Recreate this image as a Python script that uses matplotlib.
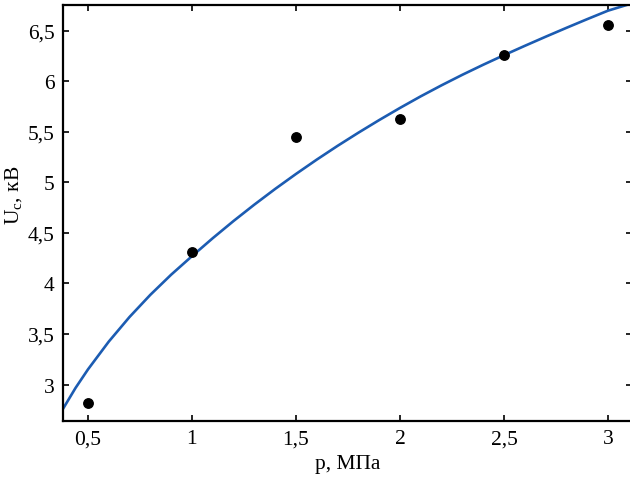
import matplotlib
matplotlib.use("Agg")
import matplotlib.pyplot as plt

plt.rcParams['font.family'] = ['Liberation Serif', 'DejaVu Serif']
plt.rcParams['mathtext.fontset'] = 'custom'
plt.rcParams['mathtext.rm'] = 'Liberation Serif'
plt.rcParams['mathtext.it'] = 'Liberation Serif:italic'

# measured points
p_meas = [0.5, 1.0, 1.5, 2.0, 2.5, 3.0]
u_meas = [2.82, 4.31, 5.45, 5.63, 6.26, 6.56]

# fitted curve
p_fit = [0.38, 0.44, 0.5, 0.6, 0.7, 0.8, 0.9, 1.0, 1.1, 1.2, 1.3, 1.4, 1.5,
         1.6, 1.7, 1.8, 1.9, 2.0, 2.1, 2.2, 2.3, 2.4, 2.5, 2.6, 2.7, 2.8,
         2.9, 3.0, 3.115]
u_fit = [2.76, 2.966, 3.15, 3.425, 3.669, 3.888, 4.087, 4.27, 4.448, 4.618,
         4.78, 4.935, 5.083, 5.225, 5.361, 5.491, 5.616, 5.736, 5.851, 5.96,
         6.064, 6.163, 6.258, 6.35, 6.44, 6.528, 6.614, 6.698, 6.77]

x_ticks = [0.5, 1, 1.5, 2, 2.5, 3]
x_labels = ['0,5', '1', '1,5', '2', '2,5', '3']
y_ticks = [3, 3.5, 4, 4.5, 5, 5.5, 6, 6.5]
y_labels = ['3', '3,5', '4', '4,5', '5', '5,5', '6', '6,5']

fig = plt.figure(figsize=(6.3, 4.81), dpi=100)
ax = fig.add_axes([0.1, 0.1227, 0.903, 0.8648])

ax.plot(p_fit, u_fit, color='#1c5cb2', linewidth=1.9, zorder=2,
        solid_joinstyle='round')
ax.plot(p_meas, u_meas, 'o', color='black', markersize=6.8, zorder=3)

ax.set_xlim(0.38, 3.115)
ax.set_ylim(2.64, 6.754)

ax.set_xticks(x_ticks)
ax.set_xticklabels(x_labels)
ax.set_yticks(y_ticks)
ax.set_yticklabels(y_labels)

ax.tick_params(direction='in', length=4, width=1.2, labelsize=15.5,
               top=True, right=True, pad=6)

for s in ax.spines.values():
    s.set_linewidth(1.6)

ax.set_xlabel('p, МПа', fontsize=15.5, labelpad=4)
ax.set_ylabel(r'U$_\mathrm{c}$, кВ', fontsize=15.5)
ax.yaxis.set_label_coords(-0.068, 0.545)

fig.savefig('out.png', dpi=100)
